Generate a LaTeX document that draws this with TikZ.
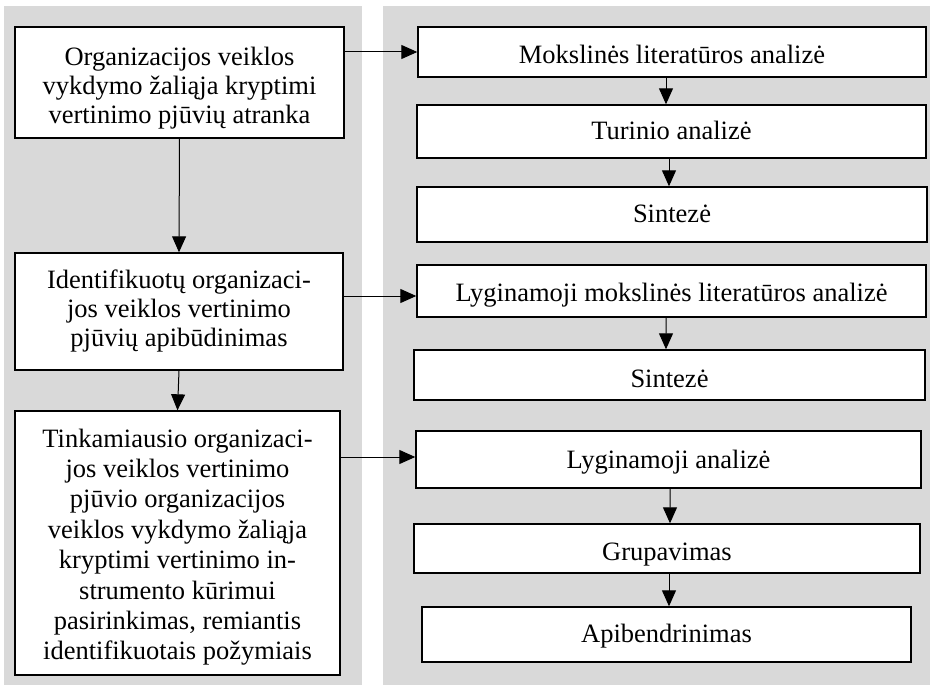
\documentclass[tikz,border=0pt]{standalone}
\usepackage{fontspec}
\setmainfont{Liberation Serif}
\usetikzlibrary{arrows.meta,calc}
\definecolor{panelgray}{HTML}{D9D9D9}
% strut with given height and depth (bp)
\newcommand\myhd[2]{\rule[-#2bp]{0pt}{\dimexpr #1bp+#2bp\relax}}
\newcommand\mytop[1]{\rule{0pt}{#1bp}}
\newcommand\mybot[1]{\rule[-#1bp]{0pt}{#1bp}}
\begin{document}
\begin{tikzpicture}[x=1bp,y=-1bp,
  box/.style={draw=black, line width=1.4bp, fill=white, inner sep=0pt,
    font=\fontsize{26.5bp}{29bp}\selectfont, align=center},
  arr/.style={-{Triangle[length=16bp,width=14bp]}, line width=1bp}]
\useasboundingbox (0,0) rectangle (933,685);
\fill[panelgray] (4,6) rectangle (362,685);
\fill[panelgray] (383,6) rectangle (930,685);
% left column
\node[box, minimum width=329bp, minimum height=111bp] (L1) at (179.5,82.5)
  {\mytop{31}Organizacijos veiklos\\vykdymo žaliąja kryptimi\\vertinimo pjūvių atranka\mybot{7}};
\node[box, minimum width=328bp, minimum height=117bp] (L2) at (179,311.5)
  {\mytop{20}Identifikuotų organizaci-\\jos veiklos vertinimo\\pjūvių apibūdinimas\mybot{9}};
\node[box, minimum width=325bp, minimum height=264bp,
  font=\fontsize{26.5bp}{30.4bp}\selectfont] (L3) at (177.5,543)
  {\mytop{28.8}Tinkamiausio organizaci-\\jos veiklos vertinimo\\pjūvio organizacijos\\veiklos vykdymo žaliąja\\kryptimi vertinimo in-\\strumento kūrimui\\pasirinkimas, remiantis\\identifikuotais požymiais\mybot{8}};
% right column
\node[box, minimum width=508bp, minimum height=50bp] (R1) at (672,52) {\myhd{31}{7}Mokslinės literatūros analizė};
\node[box, minimum width=509bp, minimum height=53bp] (R2) at (671.5,131.5) {\myhd{24}{7}Turinio analizė};
\node[box, minimum width=510bp, minimum height=55bp] (R3) at (672,214.5) {\myhd{22}{7}Sintezė};
\node[box, minimum width=509bp, minimum height=52bp] (R4) at (671.5,291) {\myhd{27}{7}Lyginamoji mokslinės literatūros analizė};
\node[box, minimum width=511bp, minimum height=50bp] (R5) at (669.5,375) {\myhd{31}{7}Sintezė};
\node[box, minimum width=505bp, minimum height=57bp] (R6) at (668.5,459.5) {\myhd{24}{7}Lyginamoji analizė};
\node[box, minimum width=506bp, minimum height=49bp] (R7) at (667,548.5) {\myhd{30}{7}Grupavimas};
\node[box, minimum width=489bp, minimum height=55bp] (R8) at (666.5,634.5) {\myhd{22}{7}Apibendrinimas};
% left arrows
\draw[arr] (L1.south) -- (L2.north);
\draw[arr] (L2.south) -- (L3.north);
% horizontal arrows
\draw[arr] (L1.east |- R1.west) -- (R1.west);
\coordinate (t2) at ($(R4.west)+(0,5)$);
\draw[arr] (L2.east |- t2) -- (t2);
\coordinate (t3) at ($(R6.west)+(0,-2.5)$);
\draw[arr] (L3.east |- t3) -- (t3);
% right arrows
\draw[arr] ([xshift=-6bp]R1.south) -- ([xshift=-5.5bp]R2.north);
\draw[arr] ([xshift=-2.5bp]R2.south) -- ([xshift=-3bp]R3.north);
\draw[arr] ([xshift=-5.5bp]R4.south) -- ([xshift=-3.5bp]R5.north);
\draw[arr] ([xshift=1.5bp]R6.south) -- ([xshift=3bp]R7.north);
\draw[arr] ([xshift=2bp]R7.south) -- ([xshift=2.5bp]R8.north);
\end{tikzpicture}
\end{document}
